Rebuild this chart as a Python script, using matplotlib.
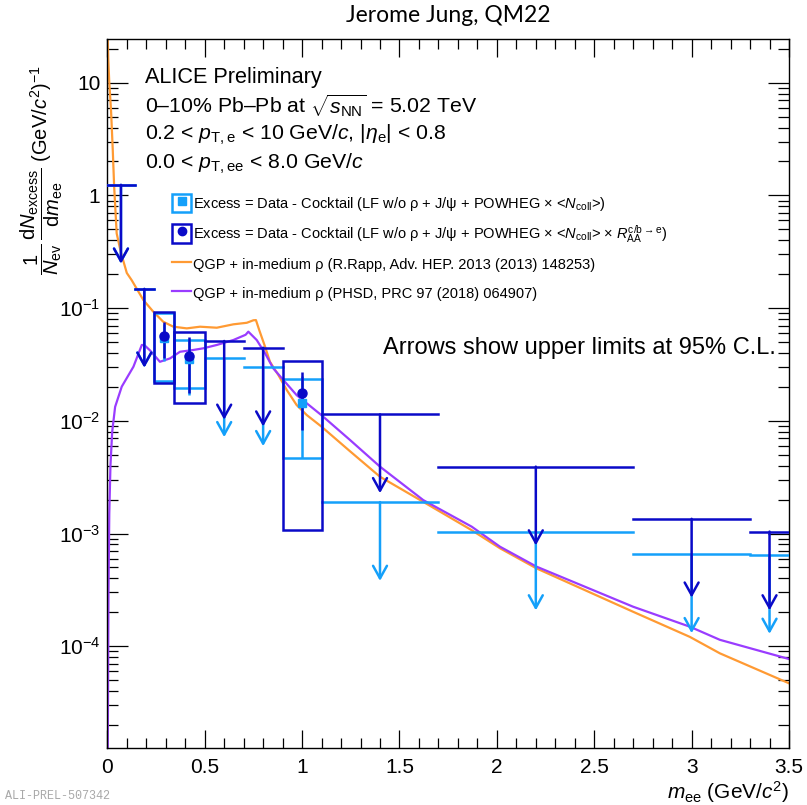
import numpy as np
import matplotlib
matplotlib.use("Agg")
import matplotlib.pyplot as plt
from matplotlib.patches import Rectangle, Patch
from matplotlib.lines import Line2D
from matplotlib.ticker import FixedLocator, LogLocator, NullFormatter, MultipleLocator
from matplotlib.legend_handler import HandlerTuple

plt.rcParams['font.family'] = ['Liberation Sans', 'DejaVu Sans']
plt.rcParams['mathtext.fontset'] = 'custom'
plt.rcParams['mathtext.rm'] = 'Liberation Sans'
plt.rcParams['mathtext.it'] = 'Liberation Sans:italic'
plt.rcParams['mathtext.bf'] = 'Liberation Sans:bold'

DARK = '#0A0AC8'
LIGHT = '#14A0FA'
ORANGE = '#FF9A33'
PURPLE = '#9A3CFF'

# measured points with systematic boxes
pt_lo = [0.24, 0.34, 0.9]
pt_hi = [0.34, 0.5, 1.1]
pt_x = [0.29, 0.42, 1.0]
dark_y = [0.0569, 0.0376, 0.0177]
dark_stat_lo = [0.0358, 0.0177, 0.00828]
dark_stat_hi = [0.0757, 0.0551, 0.0273]
dark_sys_lo = [0.0215, 0.0145, 0.00107]
dark_sys_hi = [0.0929, 0.0618, 0.0341]
light_y = [0.0540, 0.0352, 0.0143]
light_stat_lo = [0.0340, 0.0170, 0.00469]
light_stat_hi = [0.0730, 0.0530, 0.0250]
light_sys_lo = [0.0227, 0.0194, 0.00465]
light_sys_hi = [0.0899, 0.0521, 0.0235]

# upper limits (95% C.L.)
ul_lo = [0.0, 0.14, 0.5, 0.7, 1.1, 1.7, 2.7, 3.3]
ul_hi = [0.14, 0.24, 0.7, 0.9, 1.7, 2.7, 3.3, 3.5]
dark_ul = [1.24, 0.148, 0.0511, 0.0445, 0.0114, 0.00392, 0.00135, 0.00104]
light_ul = [1.24, 0.148, 0.0358, 0.0298, 0.0019, 0.00104, 0.000653, 0.000644]

# model curves
rapp_x = [0.001, 0.005, 0.01, 0.019, 0.028, 0.035, 0.048, 0.07, 0.1, 0.125, 0.185,
          0.236, 0.287, 0.339, 0.408, 0.476, 0.562, 0.647, 0.716, 0.75, 0.763, 0.78,
          0.81, 0.835, 0.878, 0.921, 0.972, 1.024, 1.10, 1.246, 1.40, 1.622, 1.871,
          2.016, 2.204, 2.70, 2.991, 3.145, 3.5]
rapp_y = [28, 16, 10, 5.7, 2.5, 1.2, 0.46, 0.31, 0.205, 0.177, 0.118,
          0.0929, 0.0757, 0.0684, 0.0661, 0.0684, 0.067, 0.0718, 0.0741, 0.078, 0.0783, 0.0638,
          0.0454, 0.0334, 0.0255, 0.0188, 0.0138, 0.01125, 0.00887, 0.00537, 0.00319, 0.00191, 0.00107,
          0.00074, 0.00049, 0.000202, 0.000121, 8.65e-5, 4.69e-5]
phsd_x = [0.002, 0.006, 0.01, 0.016, 0.025, 0.04, 0.074, 0.134, 0.177, 0.19, 0.22, 0.27,
          0.322, 0.373, 0.441, 0.493, 0.562, 0.647, 0.71, 0.724, 0.767, 0.81, 0.852,
          0.904, 0.972, 1.10, 1.246, 1.40, 1.622, 1.871, 2.016, 2.204, 2.70, 2.991,
          3.145, 3.5]
phsd_y = [1.0e-5, 3.0e-4, 1.5e-3, 4.0e-3, 8.0e-3, 0.0133, 0.0201, 0.0302, 0.0471, 0.047, 0.042, 0.0334,
          0.0358, 0.041, 0.0425, 0.044, 0.0471, 0.0521, 0.058, 0.0618, 0.0521, 0.0397, 0.0292,
          0.023, 0.0169, 0.0112, 0.00676, 0.00392, 0.00198, 0.00115, 0.000764, 0.000508, 0.000224, 0.000149,
          0.000114, 7.7e-5]

fig = plt.figure(figsize=(8.07, 8.05), dpi=100)
ax = fig.add_axes([0.133, 0.0708, 0.8447, 0.8807])
ax.set_xlim(0, 3.5)
ax.set_yscale('log')
ax.set_ylim(1.25e-5, 24.4)

ax.plot(rapp_x, rapp_y, color=ORANGE, lw=1.6, zorder=2)
ax.plot(phsd_x, phsd_y, color=PURPLE, lw=1.6, zorder=2)


def draw_limits(lo, hi, vals, color, z):
    for a, b, v in zip(lo, hi, vals):
        xc = 0.5 * (a + b)
        ax.plot([a, b], [v, v], color=color, lw=1.8, zorder=z)
        ax.annotate('', xy=(xc, 0.2 * v), xytext=(xc, v),
                    arrowprops=dict(arrowstyle='->,head_length=0.45,head_width=0.25',
                                    color=color, lw=1.8, shrinkA=0, shrinkB=0,
                                    mutation_scale=20), zorder=z)


def draw_boxes(lo, hi, ylo, yhi, color, z):
    for a, b, l, h in zip(lo, hi, ylo, yhi):
        ax.add_patch(Rectangle((a, l), b - a, h - l, fill=False,
                               edgecolor=color, lw=1.8, zorder=z))


draw_limits(ul_lo, ul_hi, light_ul, LIGHT, 3)
draw_boxes(pt_lo, pt_hi, light_sys_lo, light_sys_hi, LIGHT, 3)
ax.errorbar(pt_x, light_y,
            yerr=[np.subtract(light_y, light_stat_lo), np.subtract(light_stat_hi, light_y)],
            fmt='none', ecolor=LIGHT, elinewidth=1.8, capsize=0, zorder=3)

draw_limits(ul_lo, ul_hi, dark_ul, DARK, 4)
draw_boxes(pt_lo, pt_hi, dark_sys_lo, dark_sys_hi, DARK, 4)
ax.errorbar(pt_x, dark_y,
            yerr=[np.subtract(dark_y, dark_stat_lo), np.subtract(dark_stat_hi, dark_y)],
            fmt='none', ecolor=DARK, elinewidth=1.8, capsize=0, zorder=4)
ax.plot(pt_x, light_y, 's', color=LIGHT, ms=6, zorder=5)
ax.plot(pt_x, dark_y, 'o', color=DARK, ms=6.5, zorder=6)

# axes styling
ax.xaxis.set_minor_locator(MultipleLocator(0.1))
ax.set_xticks([0, 0.5, 1, 1.5, 2, 2.5, 3, 3.5])
ax.set_xticklabels(['0', '0.5', '1', '1.5', '2', '2.5', '3', '3.5'])
ax.yaxis.set_major_locator(FixedLocator([1e-4, 1e-3, 1e-2, 1e-1, 1, 10]))
ax.set_yticklabels([r'$10^{-4}$', r'$10^{-3}$', r'$10^{-2}$', r'$10^{-1}$', '1', '10'])
ax.yaxis.set_minor_locator(LogLocator(base=10, subs=np.arange(2, 10), numticks=20))
ax.yaxis.set_minor_formatter(NullFormatter())
ax.tick_params(which='both', direction='in', top=True, right=True, labelsize=15, width=0.9)
ax.tick_params(axis='x', which='major', length=13, pad=7)
ax.tick_params(axis='x', which='minor', length=7)
ax.tick_params(axis='y', which='major', length=15, pad=5)
ax.tick_params(axis='y', which='minor', length=8)
for s in ax.spines.values():
    s.set_linewidth(1.0)

ax.set_xlabel(r'$m_{\rm ee}$ (GeV/$c^{2}$)', fontsize=15, ha='right', va='top')
ax.xaxis.set_label_coords(1.0, -0.044)
ax.set_ylabel(r'$\dfrac{1}{N_{\rm ev}}\,\dfrac{{\rm d}N_{\rm excess}}{{\rm d}m_{\rm ee}}$ (GeV/$c^{2}$)$^{-1}$',
              fontsize=14.5, va='center', ha='center')
ax.yaxis.set_label_coords(-0.097, 0.815)

# legend
h_light = (Patch(facecolor='none', edgecolor=LIGHT, lw=1.8),
           Line2D([], [], marker='s', color=LIGHT, ls='', ms=6))
h_dark = (Patch(facecolor='none', edgecolor=DARK, lw=1.8),
          Line2D([], [], marker='o', color=DARK, ls='', ms=6))
h_rapp = Line2D([], [], color=ORANGE, lw=1.6)
h_phsd = Line2D([], [], color=PURPLE, lw=1.6)
labels = [
    r'Excess = Data - Cocktail (LF w/o ρ + J/ψ + POWHEG × <$N_{\rm coll}$>)',
    r'Excess = Data - Cocktail (LF w/o ρ + J/ψ + POWHEG × <$N_{\rm coll}$> × $R_{\rm AA}^{\rm c/b \rightarrow e}$)',
    'QGP + in-medium ρ (R.Rapp, Adv. HEP. 2013 (2013) 148253)',
    'QGP + in-medium ρ (PHSD, PRC 97 (2018) 064907)',
]
ax.legend([h_light, h_dark, h_rapp, h_phsd], labels,
          handler_map={tuple: HandlerTuple(ndivide=1)},
          loc='upper left', bbox_to_anchor=(0.095, 0.782), frameon=False,
          fontsize=10.5, handlelength=1.3, handleheight=1.6, handletextpad=0.15,
          labelspacing=0.7, borderaxespad=0, borderpad=0)

txt = dict(transform=ax.transAxes, va='center', ha='left')
ax.text(0.0553, 0.946, 'ALICE Preliminary', fontsize=15.6, **txt)
ax.text(0.0553, 0.906, r'0–10% Pb–Pb at $\sqrt{s_{\rm NN}}$ = 5.02 TeV', fontsize=15.3, **txt)
ax.text(0.0553, 0.865, r'0.2 < $p_{\rm T,e}$ < 10 GeV/$c$, |$\eta_{\rm e}$| < 0.8', fontsize=15.3, **txt)
ax.text(0.0553, 0.824, r'0.0 < $p_{\rm T,ee}$ < 8.0 GeV/$c$', fontsize=15.3, **txt)
ax.text(0.404, 0.564, 'Arrows show upper limits at 95% C.L.', fontsize=17, **txt)

fig.text(448 / 807, 1 - 15 / 805, 'Jerome Jung, QM22', ha='center', va='center',
         fontsize=16.5, family=['Lato', 'DejaVu Sans'])
fig.text(5 / 807, 1 - 796 / 805, 'ALI-PREL-507342', ha='left', va='center',
         fontsize=8.5, color='#A8A8A8', family=['Liberation Mono', 'DejaVu Sans Mono'])

fig.savefig('out.png', dpi=100)
